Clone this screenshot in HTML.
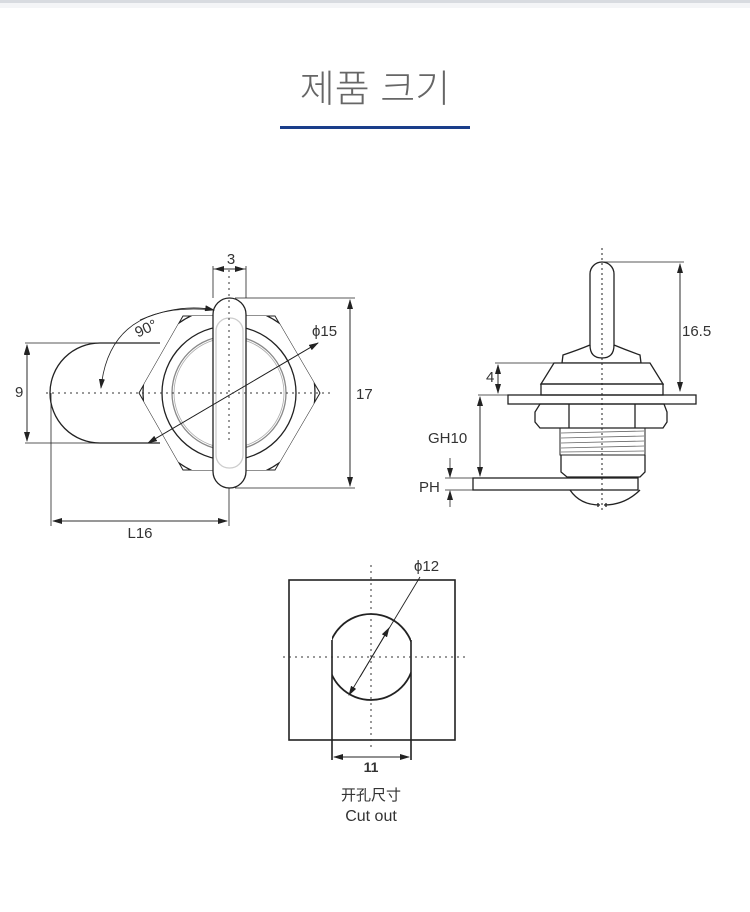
<!DOCTYPE html>
<html><head><meta charset="utf-8"><style>
html,body{margin:0;padding:0;background:#fff;width:750px;height:912px;overflow:hidden}
svg{display:block}
text{font-family:"Liberation Sans","Noto Sans CJK KR",sans-serif;fill:#333}
</style></head><body>
<svg width="750" height="912" viewBox="0 0 750 912" xmlns="http://www.w3.org/2000/svg">
<defs>
<marker id="a" markerWidth="10" markerHeight="6" refX="9" refY="3" orient="auto" markerUnits="userSpaceOnUse"><path d="M0,0 L10,3 L0,6 Z" fill="#222"/></marker>
<clipPath id="hex"><polygon points="139,393 183,316 275,316 320,393 275,470 183,470"/></clipPath>
<clipPath id="cut"><rect x="332" y="600" width="79" height="120"/></clipPath>
</defs>
<rect x="0" y="0" width="750" height="3" fill="#d8dbe0"/>
<rect x="0" y="3" width="750" height="5" fill="#f4f5f7"/>
<text x="375" y="102" font-size="38" text-anchor="middle" style="fill:#666;font-weight:300" font-family="Noto Sans CJK KR, sans-serif">제품 크기</text>
<rect x="280" y="126" width="190" height="3" fill="#1a3e8a"/>

<g fill="none" stroke="#222" stroke-width="1.3">
<!-- left view -->
<path d="M100,343 L160,343 M100,443 L160,443 M100,343 A50,50 0 0 0 100,443"/>
<polygon points="139,393 183,316 275,316 320,393 275,470 183,470" stroke-width="1"/>
<circle cx="229" cy="393" r="86" clip-path="url(#hex)" fill="#fff"/>
<circle cx="229" cy="393" r="67"/>
<circle cx="229" cy="393" r="57" stroke="#888"/>
<circle cx="229" cy="393" r="55" stroke="#aaa" stroke-width="0.8"/>
<rect x="213" y="298" width="33" height="190" rx="16.5" fill="#fff"/>
<rect x="216" y="318" width="27" height="150" rx="13" stroke="#ccc"/>
<g stroke="#333" stroke-width="1" stroke-dasharray="2,4">
<line x1="46" y1="393" x2="330" y2="393"/><line x1="229" y1="270" x2="229" y2="440"/>
</g>
<g stroke-width="0.8">
<line x1="25" y1="343" x2="100" y2="343"/><line x1="25" y1="443" x2="100" y2="443"/>
<line x1="27" y1="350" x2="27" y2="346" marker-end="url(#a)"/><line x1="27" y1="345" x2="27" y2="441" marker-end="url(#a)"/><line x1="27" y1="441" x2="27" y2="345" marker-end="url(#a)"/>
<line x1="51" y1="393" x2="51" y2="526"/><line x1="229" y1="488" x2="229" y2="526"/>
<line x1="53" y1="521" x2="227" y2="521" marker-end="url(#a)"/><line x1="227" y1="521" x2="53" y2="521" marker-end="url(#a)"/>
<line x1="235" y1="298" x2="355" y2="298"/><line x1="235" y1="488" x2="355" y2="488"/>
<line x1="350" y1="300" x2="350" y2="486" marker-end="url(#a)"/><line x1="350" y1="486" x2="350" y2="300" marker-end="url(#a)"/>
<line x1="213" y1="266" x2="213" y2="298"/><line x1="246" y1="266" x2="246" y2="298"/>
<line x1="213" y1="269" x2="244" y2="269" marker-end="url(#a)"/><line x1="246" y1="269" x2="215" y2="269" marker-end="url(#a)"/>
<line x1="318" y1="343" x2="148" y2="443" marker-end="url(#a)"/><line x1="148" y1="443" x2="318" y2="343" marker-end="url(#a)"/>
<path d="M214,310 Q110,300 101,388" marker-end="url(#a)"/><path d="M140,320 Q180,303 214,310" marker-end="url(#a)"/>
</g>

<!-- right view -->
<path d="M590,345 L590,274 A12,12 0 0 1 614,274 L614,345 Q626,350 640,355 L641,363 L562,363 L563,355 Q578,350 590,345 Z" fill="#fff"/>
<path d="M590,345 Q590,358 602,358 Q614,358 614,345"/>
<polygon points="554,363 650,363 663,384 541,384" fill="#fff"/>
<rect x="541" y="384" width="122" height="11"/>
<rect x="508" y="395" width="188" height="9"/>
<path d="M540,404 L664,404 L667,412 L667,422 L663,428 L540,428 L535,422 L535,412 Z"/>
<line x1="569" y1="404" x2="569" y2="428"/><line x1="635" y1="404" x2="635" y2="428"/>
<rect x="560" y="428" width="85" height="27" stroke-width="1"/>
<g stroke="#666" stroke-width="0.8"><line x1="561" y1="433" x2="644" y2="431"/><line x1="561" y1="438" x2="644" y2="436"/><line x1="561" y1="443" x2="644" y2="441"/><line x1="561" y1="448" x2="644" y2="446"/><line x1="561" y1="452" x2="644" y2="451"/></g>
<path d="M561,455 L561,472 L567,477 L640,477 L645,472 L645,455"/>
<rect x="473" y="478" width="165" height="12"/>
<path d="M570,490 Q580,505 600,505 M604,505 Q625,505 640,490"/>
<path d="M598,503 L598,507 M606,503 L606,507"/>
<line x1="602" y1="248" x2="602" y2="512" stroke-width="1" stroke-dasharray="2,3"/>
<g stroke-width="0.8">
<line x1="602" y1="262" x2="684" y2="262"/>
<line x1="680" y1="264" x2="680" y2="391" marker-end="url(#a)"/><line x1="680" y1="391" x2="680" y2="264" marker-end="url(#a)"/>
<line x1="495" y1="363" x2="554" y2="363"/><line x1="478" y1="395" x2="508" y2="395"/>
<line x1="498" y1="365" x2="498" y2="393" marker-end="url(#a)"/><line x1="498" y1="393" x2="498" y2="365" marker-end="url(#a)"/>
<line x1="480" y1="397" x2="480" y2="476" marker-end="url(#a)"/><line x1="480" y1="476" x2="480" y2="397" marker-end="url(#a)"/>
<line x1="445" y1="478" x2="473" y2="478"/><line x1="445" y1="490" x2="473" y2="490"/>
<line x1="450" y1="458" x2="450" y2="477" marker-end="url(#a)"/><line x1="450" y1="507" x2="450" y2="491" marker-end="url(#a)"/>
</g>

<!-- cutout -->
<rect x="289" y="580" width="166" height="160" stroke-width="1.6"/>
<circle cx="371" cy="657" r="43" stroke-width="1.8" clip-path="url(#cut)"/>
<line x1="332" y1="640" x2="332" y2="760" stroke-width="1.6"/>
<line x1="411" y1="640" x2="411" y2="760" stroke-width="1.6"/>
<g stroke="#333" stroke-width="1" stroke-dasharray="2,4"><line x1="283" y1="657" x2="465" y2="657"/><line x1="371" y1="565" x2="371" y2="750"/></g>
<g stroke-width="0.9">
<line x1="420" y1="577" x2="349" y2="695" marker-end="url(#a)"/><line x1="360" y1="677" x2="389" y2="628" marker-end="url(#a)"/>
<line x1="334" y1="757" x2="409" y2="757" marker-end="url(#a)"/><line x1="409" y1="757" x2="334" y2="757" marker-end="url(#a)"/>
</g>
</g>

<g font-size="15">
<text x="231" y="264" text-anchor="middle">3</text>
<text x="312" y="336">ϕ15</text>
<text x="356" y="399">17</text>
<text x="15" y="397">9</text>
<text x="140" y="538" text-anchor="middle">L16</text>
<text x="148" y="333" transform="rotate(-25 148 333)" text-anchor="middle">90°</text>
<text x="682" y="336">16.5</text>
<text x="486" y="382">4</text>
<text x="428" y="443">GH10</text>
<text x="419" y="492">PH</text>
<text x="414" y="571">ϕ12</text>
<text x="371" y="772" text-anchor="middle" font-weight="bold" font-size="14">11</text>
<text x="371" y="800" text-anchor="middle" font-size="15" font-family="Noto Sans CJK SC, sans-serif">开孔尺寸</text>
<text x="371" y="821" text-anchor="middle" font-size="16">Cut out</text>
</g>
</svg>
</body></html>
